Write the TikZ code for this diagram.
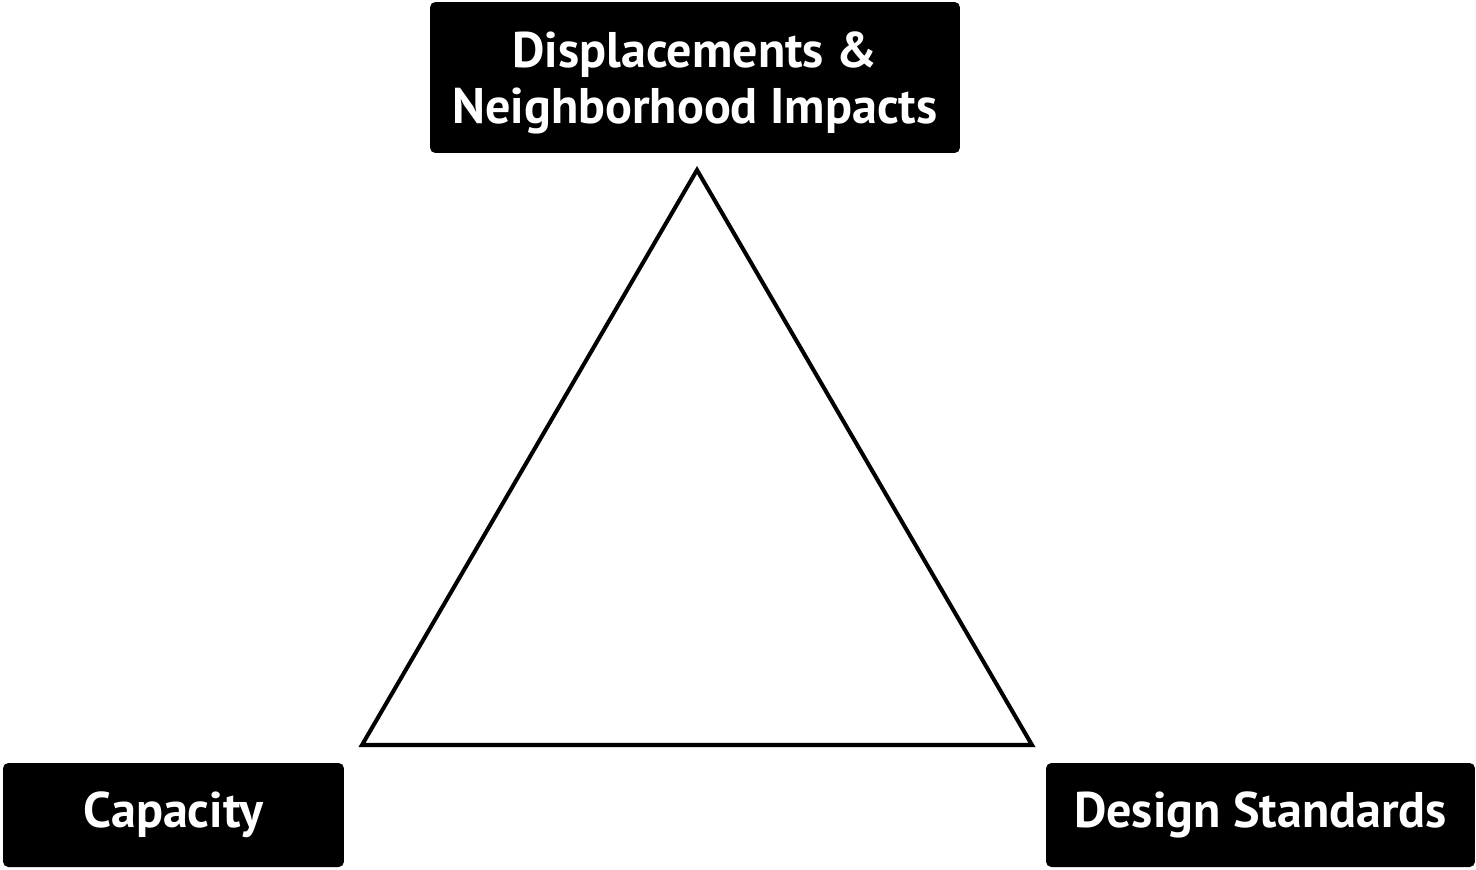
\documentclass[tikz,border=0pt]{standalone}
\usepackage{fontspec}
\setmainfont{PT Sans}
\usepackage{tikz}
\usetikzlibrary{positioning}

\begin{document}
\begin{tikzpicture}[
  x=0.02cm, y=-0.02cm,
  label/.style={rectangle, fill=black, rounded corners=3pt, text=white, font=\bfseries\fontsize{28.5}{31.7}\selectfont, align=center, inner sep=0pt}
]

% Page frame
\useasboundingbox (0,0) rectangle (1476,869);

% Top box
\node[label, minimum width=10.6cm, minimum height=3.02cm, text depth=0pt] (impacts) at (695,77.5) {Displacements \&\\Neighborhood Impacts};

% Bottom boxes
\node[label, minimum width=6.82cm, minimum height=2.08cm] (capacity) at (173.5,815) {Capacity};
\node[label, minimum width=8.58cm, minimum height=2.08cm] (design) at (1260.5,815) {Design Standards};

% Triangle
\coordinate (apex) at (697,170);
\coordinate (left) at (362,745);
\coordinate (right) at (1032,745);
\draw[line width=2.3pt, line join=miter] (apex) -- (left) -- (right) -- cycle;

\end{tikzpicture}
\end{document}
